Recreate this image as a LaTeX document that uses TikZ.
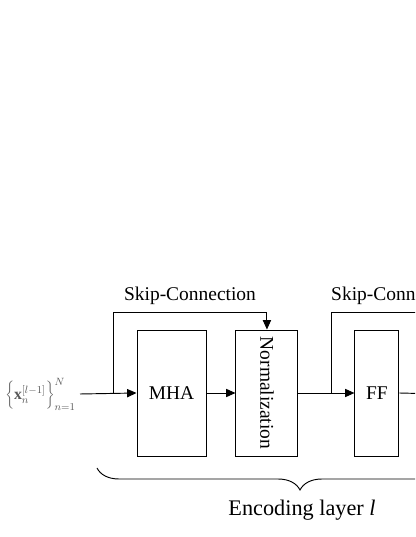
\documentclass[tikz,border=0pt]{standalone}
\usepackage{fontspec}
\setmainfont{Liberation Serif}
\usetikzlibrary{arrows.meta,positioning,decorations.pathreplacing}

\tikzset{
	block/.style={draw, line width=0.8pt, minimum height=3.78cm, inner sep=0pt, font=\fontsize{16.6}{18}\selectfont},
	flow/.style={line width=0.8pt},
	arrow/.style={flow, -{Triangle[length=8pt, width=7pt]}},
}

\begin{document}
\begin{tikzpicture}[x=0.03cm, y=0.03cm]
	
	\useasboundingbox (0,0) rectangle (415,537);
	\clip (0,0) rectangle (415,537);
	
	\node[block, minimum width=2.07cm] (mha) at (171.5,144) {MHA};
	\node[block, minimum width=1.86cm, right=0.87cm of mha] (norm) {\rotatebox{-90}{Normalization}};
	\node[block, minimum width=1.32cm, right=1.68cm of norm] (ff) {FF};
	
	\coordinate (in) at (80,143);
	\coordinate (skip1) at (113,143);
	\coordinate (skip2) at (331,143);
	\coordinate (out) at (440,143);
	
	\node[anchor=east, inner sep=1pt, text=black!65, font=\fontsize{13.5}{15}\selectfont] (xin) at (77,143) {$\bigg\{\mathbf{x}_n^{[l-1]}\bigg\}_{n=1}^{N}$};
	
	\draw[arrow] (in) -- (mha.west);
	\draw[arrow] (mha.east) -- (norm.west);
	\draw[arrow] (norm.east) -- (ff.west);
	\draw[flow] (ff.east) -- (out);
	
	\draw[arrow] (skip1) -- (113,225) -| (norm.north);
	\draw[flow] (skip2) |- (440,225);
	
	\node[font=\fontsize{16.6}{18}\selectfont] (skiplabel1) at (190,241) {Skip-Connection};
	\node[anchor=west, inner sep=0pt, font=\fontsize{16.6}{18}\selectfont] (skiplabel2) at (331,241) {Skip-Connection};
	
	\draw[flow, decorate, decoration={brace, mirror, amplitude=0.66cm}] (97,69) -- (503,69);
	\node[font=\fontsize{19}{21}\selectfont] (layer) at (302,27) {Encoding layer \textit{l}};
	
\end{tikzpicture}
\end{document}
